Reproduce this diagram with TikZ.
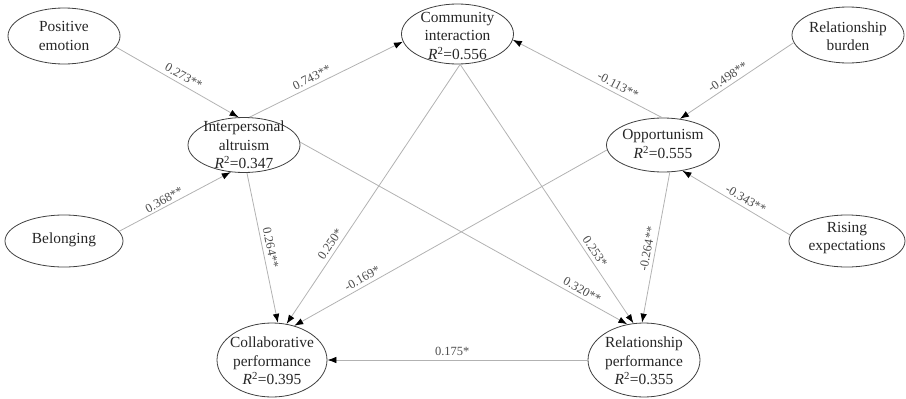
\documentclass[tikz,border=0pt]{standalone}
\usepackage{fontspec}
\setmainfont{Liberation Serif}
\usetikzlibrary{shapes.geometric,arrows.meta}
\newcommand{\rsq}[1]{\textit{R}\textsuperscript{2}=#1}
\begin{document}
\begin{tikzpicture}[x=1pt,y=-1pt,
  var/.style={ellipse, draw=black!75, line width=0.8pt, inner sep=0pt, minimum width=112pt, minimum height=56pt},
  vtxt/.style={align=center, font=\fontsize{15.4}{18.5}\selectfont, text=black!85, inner sep=0pt},
  link/.style={draw=black!30, line width=0.8pt, -{Latex[length=9pt,width=6.5pt,color=black]}},
  coef/.style={font=\fontsize{12.5}{14}\selectfont, text=black!70, sloped, above, inner sep=3.5pt}
]
\useasboundingbox (0,0) rectangle (906,399);

% ellipses
\node[var] (PE) at (64,36) {};
\node[var, minimum height=60pt] (CI) at (457.5,34) {};
\node[var] (RB) at (848,35) {};
\node[var, minimum height=55pt] (IA) at (244,145) {};
\node[var, minimum width=113pt, minimum height=54pt] (OP) at (663,145) {};
\node[var, minimum width=118pt, minimum height=52pt] (BE) at (64,241) {};
\node[var, minimum width=116pt, minimum height=52pt] (RE) at (847,241) {};
\node[var, minimum width=110pt, minimum height=74pt] (CP) at (272,360) {};
\node[var, minimum width=112pt, minimum height=74pt] (RP) at (644,360) {};

% texts
\node[vtxt] (PEt) at (64,36) {Positive\\emotion};
\node[vtxt] (CIt) at (457.5,36) {Community\\interaction\\\rsq{0.556}};
\node[vtxt] (RBt) at (848,36) {Relationship\\burden};
\node[vtxt] (IAt) at (244,145) {Interpersonal\\altruism\\\rsq{0.347}};
\node[vtxt] (OPt) at (663,144) {Opportunism\\\rsq{0.555}};
\node[vtxt] (BEt) at (64,240) {Belonging};
\node[vtxt] (REt) at (847,238) {Rising\\expectations};
\node[vtxt] (CPt) at (272,361) {Collaborative\\performance\\\rsq{0.395}};
\node[vtxt] (RPt) at (644,361) {Relationship\\performance\\\rsq{0.355}};

% paths
\draw[link] (PE.-12.8) -- node[coef, pos=0.52] {0.273**} (IA.101);
\draw[link] (IA.79) -- node[coef, pos=0.43] {0.743**} (CI.188);
\draw[link] (BE.10) -- node[coef, pos=0.43, inner sep=2pt] {0.368**} (IA.-116.6);
\draw[link] (OP.92) -- node[coef, pos=0.32] {-0.113**} (CI.-6.2);
\draw[link] (RB.188) -- node[coef, pos=0.54] {-0.498**} (OP.57.8);
\draw[link] (RE.174) -- node[coef, pos=0.45] {-0.343**} (OP.-53.5);
\draw[link] (IA.-84.3) -- node[coef, pos=0.51] {0.264**} (CP.81);
\draw[link] (CI.-85.7) -- node[coef, pos=0.71] {0.250*} (CP.68);
\draw[link] (OP.185) -- node[coef, pos=0.77] {-0.169*} (CP.57.4);
\draw[link] (IA.3) -- node[coef, pos=0.85] {0.320**} (RP.115.3);
\draw[link] (CI.-85.7) -- node[coef, pos=0.74] {0.253*} (RP.106.1);
\draw[link] (OP.-76) -- node[coef, pos=0.52] {-0.264**} (RP.93);
\draw[link] (RP.west) -- node[coef, pos=0.52] {0.175*} (CP.east);
\end{tikzpicture}
\end{document}
